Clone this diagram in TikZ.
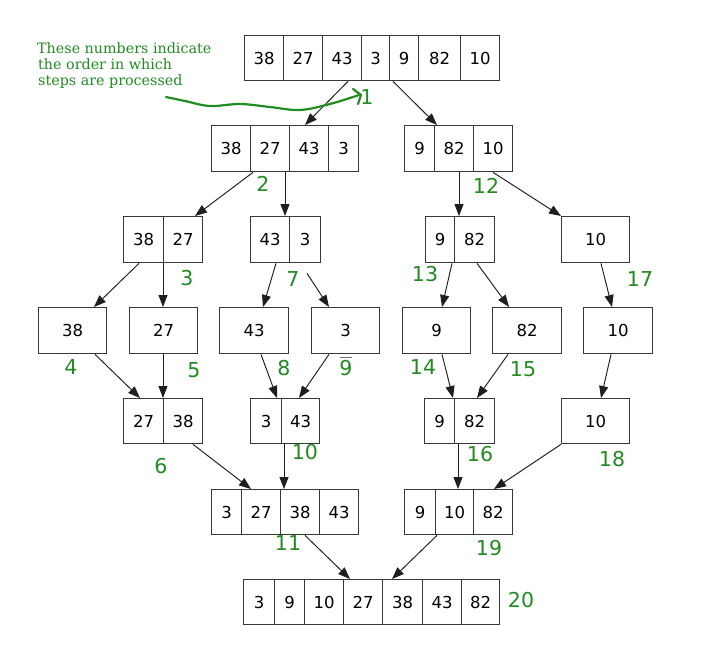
\documentclass[tikz,border=0pt]{standalone}
\usepackage{fontspec}
\setmainfont{DejaVu Sans}
\newfontfamily\serifnote{DejaVu Serif}
\usetikzlibrary{arrows.meta,calc}
\definecolor{lblgreen}{RGB}{34,139,34}
\tikzset{
  cellbox/.style={draw=black!78, line width=1.35pt, anchor=north west, inner sep=0pt, font=\fontsize{16.5}{17}\selectfont},
  arr/.style={draw=black!88, line width=0.95pt, -{Triangle[length=12pt,width=9pt]}},
  steplbl/.style={text=lblgreen, font=\fontsize{20.5}{21}\selectfont, inner sep=0pt},
  note/.style={text=lblgreen, font=\serifnote\fontsize{14.3}{16}\selectfont, anchor=base west, inner sep=0pt},
  noteline/.style={draw=lblgreen, line width=2.2pt, line cap=round, line join=round},
}
\newcommand\cellnode[6]{\node[cellbox, minimum width=#4pt, minimum height=#5pt] (#1) at (#2,#3) {#6};}
\begin{document}
\begin{tikzpicture}[x=1pt,y=-1pt]
\fill[white] (0,0) rectangle (706,664);
\useasboundingbox (0,0) rectangle (706,664);
% row 1
\cellnode{T1}{244}{35}{39}{45}{38}
\cellnode{T2}{283}{35}{39}{45}{27}
\cellnode{T3}{322}{35}{39}{45}{43}
\cellnode{T4}{361}{35}{28}{45}{3}
\cellnode{T5}{389}{35}{29}{45}{9}
\cellnode{T6}{418}{35}{42}{45}{82}
\cellnode{T7}{460}{35}{39}{45}{10}
% row 2
\cellnode{L1}{211}{125}{39}{46}{38}
\cellnode{L2}{250}{125}{39}{46}{27}
\cellnode{L3}{289}{125}{39}{46}{43}
\cellnode{L4}{328}{125}{30}{46}{3}
\cellnode{R1}{404}{125}{30}{46}{9}
\cellnode{R2}{434}{125}{39}{46}{82}
\cellnode{R3}{473}{125}{39}{46}{10}
% row 3
\cellnode{A1}{123}{216}{40}{46}{38}
\cellnode{A2}{163}{216}{39}{46}{27}
\cellnode{B1}{250}{216}{39}{46}{43}
\cellnode{B2}{289}{216}{31}{46}{3}
\cellnode{C1}{425}{216}{29}{46}{9}
\cellnode{C2}{454}{216}{40}{46}{82}
\cellnode{D1}{561}{216}{68}{46}{10}
% row 4
\cellnode{S1}{38}{307}{68}{46}{38}
\cellnode{S2}{129}{307}{68}{46}{27}
\cellnode{S3}{219}{307}{69}{46}{43}
\cellnode{S4}{311}{307}{68}{46}{3}
\cellnode{S5}{402}{307}{68}{46}{9}
\cellnode{S6}{492}{307}{69}{46}{82}
\cellnode{S7}{583}{307}{69}{46}{10}
% row 5
\cellnode{E1}{123}{398}{40}{45}{27}
\cellnode{E2}{163}{398}{39}{45}{38}
\cellnode{F1}{250}{398}{31}{45}{3}
\cellnode{F2}{281}{398}{38}{45}{43}
\cellnode{G1}{424}{398}{30}{45}{9}
\cellnode{G2}{454}{398}{40}{45}{82}
\cellnode{H1}{561}{398}{68}{45}{10}
% row 6
\cellnode{M1}{211}{489}{30}{45}{3}
\cellnode{M2}{241}{489}{39}{45}{27}
\cellnode{M3}{280}{489}{39}{45}{38}
\cellnode{M4}{319}{489}{39}{45}{43}
\cellnode{N1}{404}{489}{31}{45}{9}
\cellnode{N2}{435}{489}{38}{45}{10}
\cellnode{N3}{473}{489}{39}{45}{82}
% row 7
\cellnode{P1}{243}{579}{31}{45}{3}
\cellnode{P2}{274}{579}{30}{45}{9}
\cellnode{P3}{304}{579}{39}{45}{10}
\cellnode{P4}{343}{579}{39}{45}{27}
\cellnode{P5}{382}{579}{40}{45}{38}
\cellnode{P6}{422}{579}{39}{45}{43}
\cellnode{P7}{461}{579}{38}{45}{82}
% arrows
\draw[arr] ($(T3.south west)+(26,0)$) -- ($(L3.north west)+(16,0)$);
\draw[arr] ($(T5.south west)+(4,0)$) -- ($(R2.north west)+(3,0)$);
\draw[arr] ($(L2.south west)+(3,0)$) -- ($(A2.north west)+(32,0)$);
\draw[arr] ($(L2.south west)+(35,0)$) -- ($(B1.north west)+(35,0)$);
\draw[arr] ($(R2.south west)+(25,0)$) -- ($(C2.north west)+(5,0)$);
\draw[arr] ($(R3.south west)+(20,0)$) -- (D1.north west);
\draw[arr] ($(A1.south west)+(16,0)$) -- ($(S1.north west)+(56,0)$);
\draw[arr] (A2.south west) -- ($(S2.north west)+(34,0)$);
\draw[arr] ($(B1.south west)+(26,0)$) -- ($(S3.north west)+(44,0)$);
\coordinate (b2free) at ($(B2.south west)+(18,10)$);
\draw[arr] (b2free) -- ($(S4.north west)+(18,0)$);
\draw[arr] ($(C1.south west)+(27,0)$) -- ($(S5.north west)+(40,0)$);
\draw[arr] ($(C2.south west)+(23,0)$) -- ($(S6.north west)+(17,0)$);
\draw[arr] ($(D1.south west)+(40,0)$) -- ($(S7.north west)+(29,0)$);
\draw[arr] ($(S1.south west)+(57,0)$) -- ($(E1.north west)+(17,0)$);
\draw[arr] ($(S2.south west)+(34,0)$) -- (E2.north west);
\draw[arr] ($(S3.south west)+(42,0)$) -- ($(F1.north west)+(27,0)$);
\draw[arr] ($(S4.south west)+(18,0)$) -- ($(F2.north west)+(18,0)$);
\draw[arr] ($(S5.south west)+(40,0)$) -- ($(G1.north west)+(29,0)$);
\draw[arr] ($(S6.south west)+(16,0)$) -- ($(G2.north west)+(23,0)$);
\draw[arr] ($(S7.south west)+(28,0)$) -- ($(H1.north west)+(40,0)$);
\draw[arr] ($(E2.south west)+(30,0)$) -- ($(M2.north west)+(10,0)$);
\draw[arr] ($(F2.south west)+(3,0)$) -- ($(M3.north west)+(4,0)$);
\draw[arr] ($(G2.south west)+(4,0)$) -- ($(N2.north west)+(23,0)$);
\draw[arr] (H1.south west) -- ($(N3.north west)+(21,0)$);
\draw[arr] ($(M3.south west)+(25,0)$) -- ($(P4.north west)+(7,0)$);
\draw[arr] ($(N2.south west)+(2,0)$) -- ($(P5.north west)+(10,0)$);
% step labels
\node[steplbl] (n1) at (367,97) {1};
\node[steplbl] (n2) at (263,184) {2};
\node[steplbl] (n3) at (187,278) {3};
\node[steplbl] (n4) at (71,367) {4};
\node[steplbl] (n5) at (194,370) {5};
\node[steplbl] (n6) at (161,466) {6};
\node[steplbl] (n7) at (293,279) {7};
\node[steplbl] (n8) at (284,368) {8};
\node[steplbl] (n9) at (346,368) {9};
\node[steplbl] (n10) at (305,452) {10};
\node[steplbl] (n11) at (288,543) {11};
\node[steplbl] (n12) at (486,186) {12};
\node[steplbl] (n13) at (425,274) {13};
\node[steplbl] (n14) at (423,367) {14};
\node[steplbl] (n15) at (523,369) {15};
\node[steplbl] (n16) at (480,454) {16};
\node[steplbl] (n17) at (640,279) {17};
\node[steplbl] (n18) at (612,459) {18};
\node[steplbl] (n19) at (489,548) {19};
\node[steplbl] (n20) at (521,600) {20};
\draw[black!55, line width=0.8pt] ($(n9.north)+(-6,-3)$) -- ($(n9.north)+(6,-3)$);
% annotation
\node[note] (t1) at (37,53) {These numbers indicate};
\node[note] (t2) at (38,69) {the order in which};
\node[note] (t3) at (38,85) {steps are processed};
\draw[noteline] plot[smooth, tension=0.6] coordinates {(166,97) (185,101) (210,106) (240,104) (270,107) (300,110) (330,104) (359,95)};
\draw[noteline] (353,89) -- (361,95) -- (358,104);
\end{tikzpicture}
\end{document}
